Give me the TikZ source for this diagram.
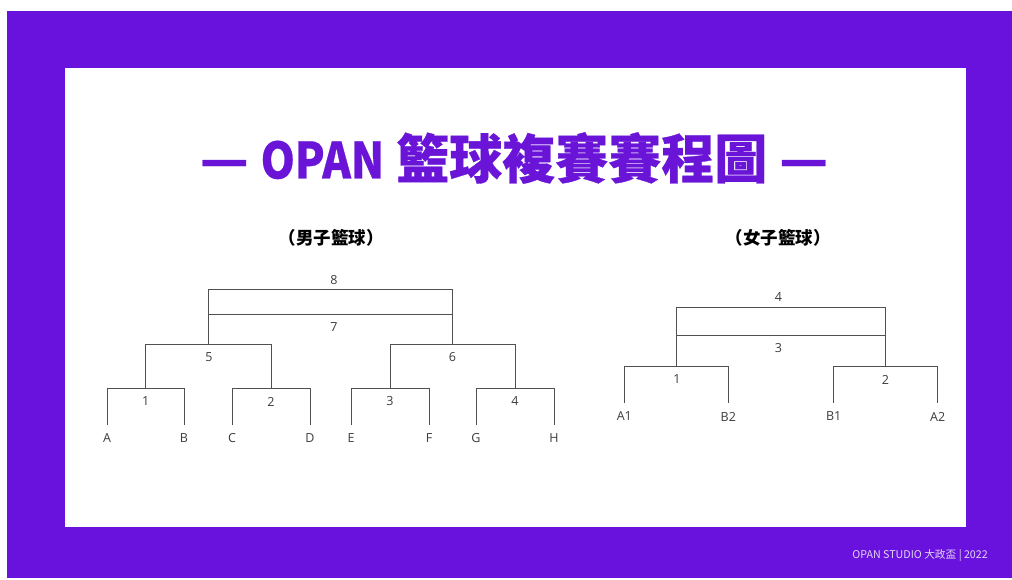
\documentclass[tikz,border=0pt]{standalone}
\usepackage{fontspec}
\newfontfamily\cjk{Noto Sans CJK TC}
\newfontfamily\titlefont[FakeBold=0.6]{Noto Sans CJK TC}
\newfontfamily\labfont{Open Sans}
\definecolor{opurple}{HTML}{6A12DD}
\definecolor{tpurple}{HTML}{6A14D8}
\definecolor{linegray}{HTML}{505050}
\definecolor{labgray}{HTML}{3C3C3C}
\definecolor{footc}{HTML}{E2D4F6}
\begin{document}
\begin{tikzpicture}[x=1pt,y=-1pt,
  br/.style={draw=linegray,line width=0.85pt},
  lab/.style={font=\labfont\fontsize{12.5}{13}\selectfont,text=labgray,inner sep=0pt},
  sub/.style={font=\cjk\bfseries\fontsize{17.5}{18}\selectfont,text=black,inner sep=0pt}]
\useasboundingbox (0,0) rectangle (1012,579);
\fill[white] (0,0) rectangle (1012,579);
\fill[opurple] (7,11) rectangle (1012,578);
\fill[white] (65,68) rectangle (966,527);

% title
\node[font=\titlefont\bfseries\fontsize{53}{53}\selectfont,text=tpurple,inner sep=0pt] (title) at (514,158) {— \scalebox{0.82}[0.94]{OPAN} 籃球複賽賽程圖 —};

% subtitles
\node[sub] (men) at (331,238) {（男子籃球）};
\node[sub] (women) at (778,238) {（女子籃球）};

% ---------- men's bracket ----------
\foreach \n/\x in {A/107,B/184,C/232,D/310,E/351,F/429,G/476,H/554} {
  \node[lab] (\n) at (\x,438) {\n};
  \coordinate (\n-t) at (\x,388);
  \coordinate (\n-b) at (\x,425);
}
\node[lab] (m1) at (145.7,401.5) {1};
\node[lab] (m2) at (271,401.5) {2};
\node[lab] (m3) at (390,401.5) {3};
\node[lab] (m4) at (515,401.5) {4};
\coordinate (c1) at (145.5,388);
\coordinate (c2) at (271,388);
\coordinate (c3) at (390,388);
\coordinate (c4) at (515,388);
\draw[br] (A-b) -- (A-t) -- (B-t) -- (B-b);
\draw[br] (C-b) -- (C-t) -- (D-t) -- (D-b);
\draw[br] (E-b) -- (E-t) -- (F-t) -- (F-b);
\draw[br] (G-b) -- (G-t) -- (H-t) -- (H-b);

\coordinate (c1u) at (145.5,344);
\coordinate (c2u) at (271,344);
\coordinate (c3u) at (390,344);
\coordinate (c4u) at (515,344);
\coordinate (s5) at (208.5,344);
\coordinate (s6) at (452.5,344);
\draw[br] (c1) -- (c1u) -- (c2u) -- (c2);
\draw[br] (c3) -- (c3u) -- (c4u) -- (c4);
\node[lab] (m5) at (209,357) {5};
\node[lab] (m6) at (452.5,357) {6};

\coordinate (s5t) at (208.5,289);
\coordinate (s6t) at (452.5,289);
\coordinate (s5m) at (208.5,314);
\coordinate (s6m) at (452.5,314);
\draw[br] (s5) -- (s5t) -- (s6t) -- (s6);
\draw[br] (s5m) -- (s6m);
\node[lab] (m8) at (334,280.5) {8};
\node[lab] (m7) at (334,327.5) {7};

% ---------- women's bracket ----------
\foreach \n/\x in {A1/624.3,B2/728.3,B1/833.7,A2/937.7} {
  \node[lab] (w\n) at (\x,416.5) {\n};
  \coordinate (w\n-t) at (\x,366);
  \coordinate (w\n-b) at (\x,403);
}
\draw[br] (wA1-b) -- (wA1-t) -- (wB2-t) -- (wB2-b);
\draw[br] (wB1-b) -- (wB1-t) -- (wA2-t) -- (wA2-b);
\node[lab] (w1) at (677,379.5) {1};
\node[lab] (w2) at (885.5,379.5) {2};
\coordinate (wc1) at (676.5,366);
\coordinate (wc2) at (885.5,366);
\coordinate (wc1t) at (676.5,307);
\coordinate (wc2t) at (885.5,307);
\coordinate (wc1m) at (676.5,335);
\coordinate (wc2m) at (885.5,335);
\draw[br] (wc1) -- (wc1t) -- (wc2t) -- (wc2);
\draw[br] (wc1m) -- (wc2m);
\node[lab] (w4) at (778.5,297.5) {4};
\node[lab] (w3) at (778.5,348.5) {3};

% footer
\node[font=\cjk\fontsize{10.7}{11}\selectfont,text=footc,anchor=east,inner sep=0pt] (footer) at (988,555) {OPAN STUDIO 大政盃 | 2022};
\end{tikzpicture}
\end{document}
